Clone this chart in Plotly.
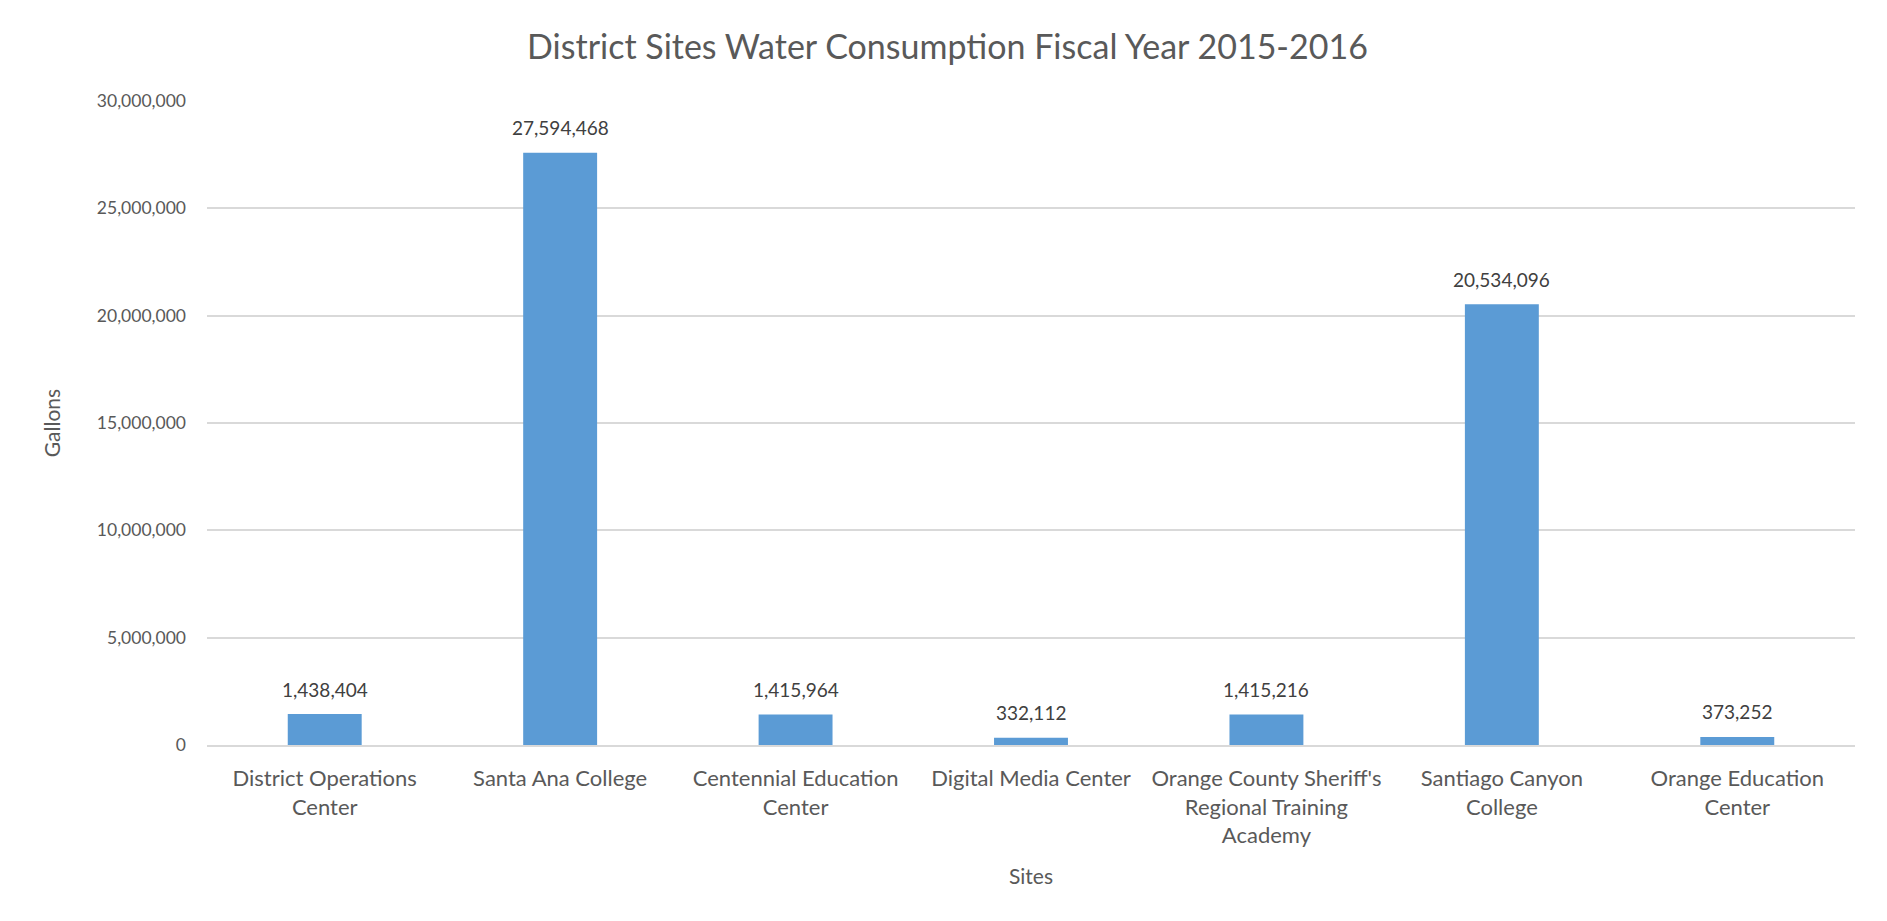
import plotly.graph_objects as go

# Sites and water use (gallons), FY 2015-2016
sites = [
    "District Operations<br>Center",
    "Santa Ana College",
    "Centennial Education<br>Center",
    "Digital Media Center",
    "Orange County Sheriff's<br>Regional Training<br>Academy",
    "Santiago Canyon<br>College",
    "Orange Education<br>Center",
]
gallons = [1438404, 27594468, 1415964, 332112, 1415216, 20534096, 373252]

FONT = "Lato, 'Open Sans', sans-serif"
BAR = "#5b9bd5"
# the page body has an 8px margin, so the figure is drawn 8px smaller
W, H = 1879, 913
L, R, T, B = 199, 32, 93, 176
PW, PH = W - L - R, H - T - B

fig = go.Figure()
fig.add_trace(go.Bar(
    x=sites,
    y=gallons,
    marker={"color": BAR, "line": {"width": 0}},
    hoverinfo="x+y",
))

# value labels above the bars
for s, v in zip(sites, gallons):
    fig.add_annotation(
        x=s, y=v, text=f"{v:,}", showarrow=False,
        yanchor="middle", yshift=25,
        font={"color": "#404040", "size": 19, "family": FONT},
    )

fig.update_layout(
    width=W,
    height=H,
    paper_bgcolor="white",
    plot_bgcolor="white",
    font={"family": FONT, "color": "#595959", "size": 18},
    title={
        "text": "District Sites Water Consumption Fiscal Year 2015-2016",
        "x": 0.5, "xanchor": "center",
        "y": 1 - 39 / H, "yanchor": "middle",
        "font": {"size": 34, "color": "#595959", "family": FONT},
    },
    margin={"l": L, "r": R, "t": T, "b": B},
    bargap=0.686,
    showlegend=False,
    xaxis={
        "title": {"text": "Sites", "standoff": 22, "font": {"size": 21}},
        "showgrid": False,
        "showline": True,
        "linecolor": "#d9d9d9",
        "linewidth": 1.5,
        "ticks": "",
        "ticklabelstandoff": 13,
        "tickfont": {"size": 22},
    },
    yaxis={
        "title": {"text": "Gallons", "standoff": 30, "font": {"size": 21}},
        "range": [0, 30000000],
        "dtick": 5000000,
        "tickformat": ",",
        "gridcolor": "#d9d9d9",
        "gridwidth": 1.5,
        "zeroline": False,
        "showline": False,
        "ticks": "",
        "ticklabelstandoff": 20,
        "tickfont": {"size": 17.5},
    },
    shapes=[{
        "type": "rect", "xref": "paper", "yref": "paper",
        "x0": -(L + 10) / PW, "x1": (W - 1.5 - L) / PW,
        "y0": -(B + 5) / PH, "y1": 1 + (T + 10) / PH,
        "line": {"color": "#d9d9d9", "width": 1.5},
    }],
)

fig.write_html("out.html")
